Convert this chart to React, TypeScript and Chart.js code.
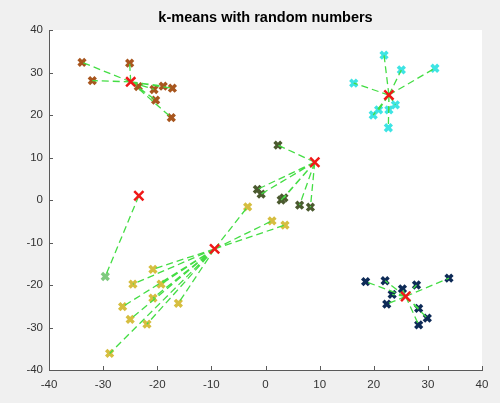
import React, { useEffect, useRef } from "react";
import { Chart, registerables } from "chart.js";

Chart.register(...registerables);

// ---- data ----
const axisTicks = [-40, -30, -20, -10, 0, 10, 20, 30, 40];

const brownX = [-33.9, -25.1, -32.0, -23.5, -20.6, -18.9, -17.2, -20.3, -17.4];
const brownY = [32.4, 32.2, 28.1, 26.7, 26.0, 26.8, 26.3, 23.5, 19.4];

const cyanX = [21.9, 25.1, 31.3, 16.3, 19.9, 20.9, 22.8, 24.0, 22.7];
const cyanY = [34.1, 30.6, 31.0, 27.5, 20.0, 21.2, 21.2, 22.4, 17.0];

const oliveX = [2.3, -1.5, -0.8, 2.9, 3.4, 6.3, 8.3];
const oliveY = [12.9, 2.5, 1.4, 0.0, 0.5, -1.2, -1.7];

const yellowX = [-3.3, 1.2, 3.6, -20.8, -24.5, -19.3, -26.4, -20.8, -16.1, -25.0, -21.9, -28.8];
const yellowY = [-1.6, -4.9, -5.9, -16.3, -19.8, -19.8, -25.1, -23.1, -24.3, -28.1, -29.2, -36.1];

const greenX = [-29.6];
const greenY = [-18.0];

const navyX = [18.5, 22.1, 25.3, 27.9, 33.9, 23.4, 22.4, 28.3, 29.9, 28.3];
const navyY = [-19.2, -19.0, -20.9, -20.0, -18.4, -22.2, -24.5, -25.5, -27.8, -29.4];

const centroidX = [-24.9, 22.8, 9.1, -9.4, -23.4, 25.9];
const centroidY = [27.8, 24.7, 8.9, -11.5, 1.0, -22.7];

const clusterXs = [brownX, cyanX, oliveX, yellowX, greenX, navyX];
const clusterYs = [brownY, cyanY, oliveY, yellowY, greenY, navyY];

// ---- styles ----
const clusterColors = ["#a8561e", "#3ee4e4", "#4b5a2f", "#d6be40", "#7fca7f", "#0e2b57"];
const lineColor = "#44dd44";
const centroidColor = "#f01818";

const whiteArea = {
  id: "whiteArea",
  beforeDraw(chart: any) {
    const { ctx, chartArea } = chart;
    ctx.save();
    ctx.fillStyle = "#f0f0f0";
    ctx.fillRect(0, 0, chart.width, chart.height);
    ctx.fillStyle = "#ffffff";
    ctx.fillRect(chartArea.left, chartArea.top, chartArea.right - chartArea.left, chartArea.bottom - chartArea.top);
    ctx.restore();
  },
};

const innerTicks = {
  id: "innerTicks",
  afterDraw(chart: any) {
    const { ctx, chartArea } = chart;
    const xs = chart.scales.x;
    const ys = chart.scales.y;
    ctx.save();
    ctx.strokeStyle = "#5a5a5a";
    ctx.lineWidth = 1;
    ctx.beginPath();
    axisTicks.forEach((v) => {
      const px = Math.round(xs.getPixelForValue(v)) + 0.5;
      ctx.moveTo(px, chartArea.bottom);
      ctx.lineTo(px, chartArea.bottom - 4);
      const py = Math.round(ys.getPixelForValue(v)) + 0.5;
      ctx.moveTo(chartArea.left, py);
      ctx.lineTo(chartArea.left + 4, py);
    });
    ctx.stroke();
    ctx.restore();
  },
};

export default function App() {
  const ref = useRef<HTMLCanvasElement | null>(null);

  useEffect(() => {
    if (!ref.current) return;
    const datasets: any[] = [];

    // data markers
    clusterXs.forEach((xsArr, k) => {
      datasets.push({
        type: "scatter",
        data: xsArr.map((x, i) => ({ x, y: clusterYs[k][i] })),
        pointStyle: "crossRot",
        pointRadius: 4.8,
        pointBorderWidth: 3.5,
        pointBorderColor: clusterColors[k],
        pointBackgroundColor: clusterColors[k],
        showLine: false,
        order: 2,
      });
    });

    // dashed lines centroid -> member
    clusterXs.forEach((xsArr, k) => {
      const pts: any[] = [];
      xsArr.forEach((x, i) => {
        pts.push({ x: centroidX[k], y: centroidY[k] });
        pts.push({ x, y: clusterYs[k][i] });
        pts.push({ x, y: null });
      });
      datasets.push({
        type: "scatter",
        data: pts,
        showLine: true,
        spanGaps: false,
        borderColor: lineColor,
        borderWidth: 1.3,
        borderDash: [7, 4],
        pointRadius: 0,
        pointHoverRadius: 0,
        order: 1,
      });
    });

    // centroids
    datasets.push({
      type: "scatter",
      data: centroidX.map((x, i) => ({ x, y: centroidY[i] })),
      pointStyle: "crossRot",
      pointRadius: 6.5,
      pointBorderWidth: 2.5,
      pointBorderColor: centroidColor,
      pointBackgroundColor: centroidColor,
      showLine: false,
      order: 0,
    });

    const tickFont = { family: "'Liberation Sans', Arial, sans-serif", size: 11.5 };

    const chart = new Chart(ref.current, {
      type: "scatter",
      data: { datasets },
      options: {
        animation: false,
        responsive: false,
        devicePixelRatio: 1,
        layout: { padding: { left: 0, right: 18, top: 0, bottom: 0 } },
        plugins: {
          legend: { display: false },
          tooltip: { enabled: false },
          title: {
            display: true,
            text: "k-means with random numbers",
            fullSize: false,
            color: "#000000",
            font: { family: "'Liberation Sans', Arial, sans-serif", size: 14.5, weight: "bold", lineHeight: 1.2 },
            padding: { top: 9, bottom: 3.6 },
          },
        },
        scales: {
          x: {
            type: "linear",
            min: -40,
            max: 40,
            afterBuildTicks: (s: any) => {
              s.ticks = axisTicks.map((v) => ({ value: v }));
            },
            afterFit: (s: any) => {
              s.height = 33;
            },
            grid: { display: false, drawTicks: false },
            border: { display: true, color: "#5a5a5a", width: 1 },
            ticks: { color: "#333333", font: tickFont, padding: 8, maxRotation: 0 },
          },
          y: {
            type: "linear",
            min: -40,
            max: 40,
            afterBuildTicks: (s: any) => {
              s.ticks = axisTicks.map((v) => ({ value: v }));
            },
            afterFit: (s: any) => {
              s.width = 49;
            },
            grid: { display: false, drawTicks: false },
            border: { display: true, color: "#5a5a5a", width: 1 },
            ticks: { color: "#333333", font: tickFont, padding: 6 },
          },
        },
      },
      plugins: [whiteArea, innerTicks],
    } as any);

    return () => chart.destroy();
  }, []);

  return (
    <div style={{ position: "fixed", left: 0, top: 0, width: 500, height: 403, background: "#f0f0f0" }}>
      <canvas ref={ref} width={500} height={403} style={{ width: 500, height: 403, display: "block" }} />
    </div>
  );
}
